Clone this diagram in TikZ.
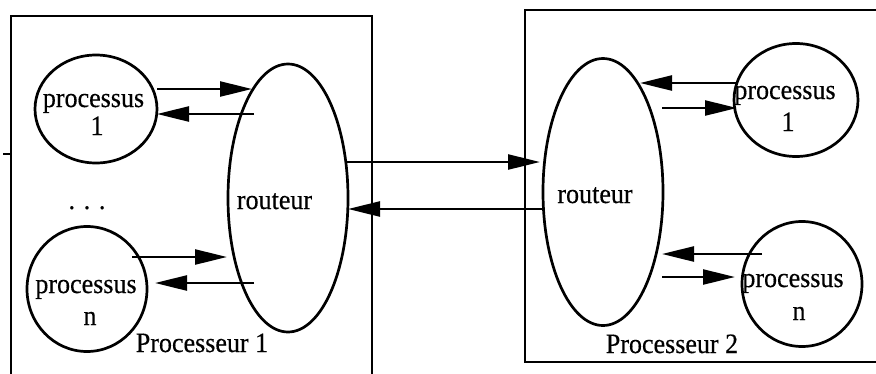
\documentclass[tikz,border=0pt]{standalone}
\usepackage{fontspec}
\setmainfont[FakeStretch=0.93,FakeBold=0.4]{Liberation Serif}
\usetikzlibrary{shapes.geometric,arrows.meta}
\begin{document}
\begin{tikzpicture}[x=1pt,y=-1pt,line width=2.7pt,
  oval/.style={draw,ellipse,inner sep=0pt,outer sep=0pt},
  arr/.style={line width=2.4pt,-{Triangle[length=32pt,width=15pt]}},
  lbl/.style={font=\fontsize{28}{32}\selectfont,inner sep=0pt,anchor=base}]
\useasboundingbox (0,0) rectangle (876,373);
\clip (0,0) rectangle (876,373);
% processor boxes
\draw[line width=2.2pt] (11,16) rectangle (372,390);
\draw[line width=2.2pt] (525,10) rectangle (890,362);
\draw[line width=1.5pt] (3,154) -- (11,154);
% left processor
\node[oval,minimum width=122pt,minimum height=108pt] (p1) at (96,109) {};
\node[oval,minimum width=120pt,minimum height=125pt] (pn) at (87,289) {};
\node[oval,minimum width=120pt,minimum height=268pt] (r1) at (288,198) {};
% right processor
\node[oval,minimum width=120pt,minimum height=267pt] (r2) at (603,192) {};
\node[oval,minimum width=124pt,minimum height=113pt] (q1) at (796,100) {};
\node[oval,minimum width=120pt,minimum height=125pt] (qn) at (802,284) {};
% labels
\node[lbl] (t1) at (93.5,107) {processus};
\node[lbl] (t2) at (97,135) {1};
\node[lbl] (t3) at (86,293) {processus};
\node[lbl] (t4) at (90,325) {n};
\node[lbl] (t5) at (87,209) {. . .};
\node[lbl] (t6) at (274.5,209) {routeur};
\node[lbl] (t7) at (202,352) {Processeur 1};
\node[lbl] (u1) at (785,99) {processus};
\node[lbl] (u2) at (788,131) {1};
\node[lbl] (u3) at (793,287) {processus};
\node[lbl] (u4) at (799,320) {n};
\node[lbl] (u6) at (595,203) {routeur};
\node[lbl] (u7) at (672,353) {Processeur 2};
% connector end points
\coordinate (a1s) at (157,89);  \coordinate (a1e) at (252,89);
\coordinate (a2s) at (254,114); \coordinate (a2e) at (157,114);
\coordinate (a3s) at (132,257); \coordinate (a3e) at (227,257);
\coordinate (a4s) at (254,283); \coordinate (a4e) at (155,283);
\coordinate (b1s) at (347,162); \coordinate (b1e) at (540,162);
\coordinate (b2s) at (543,209); \coordinate (b2e) at (348,209);
\coordinate (c1s) at (737,83);  \coordinate (c1e) at (640,83);
\coordinate (c2s) at (662,108); \coordinate (c2e) at (737,108);
\coordinate (c3s) at (762,254); \coordinate (c3e) at (662,254);
\coordinate (c4s) at (662,277); \coordinate (c4e) at (735,277);
% connectors
\draw[arr] (a1s) -- (a1e);
\draw[arr] (a2s) -- (a2e);
\draw[arr] (a3s) -- (a3e);
\draw[arr] (a4s) -- (a4e);
\draw[arr] (b1s) -- (b1e);
\draw[arr] (b2s) -- (b2e);
\draw[arr] (c1s) -- (c1e);
\draw[arr] (c2s) -- (c2e);
\draw[arr] (c3s) -- (c3e);
\draw[arr] (c4s) -- (c4e);
\end{tikzpicture}
\end{document}
